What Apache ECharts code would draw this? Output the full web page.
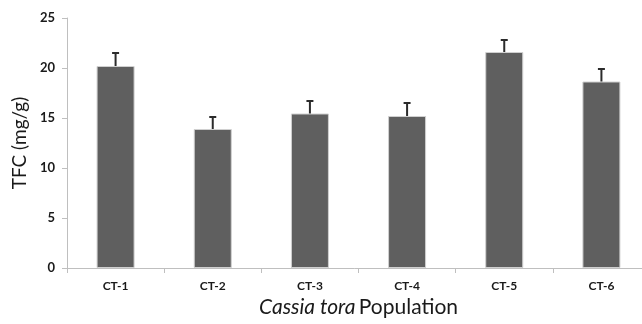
<!DOCTYPE html>
<html><head><meta charset="utf-8">
<script src="https://cdn.jsdelivr.net/npm/echarts@6/dist/echarts.min.js"></script>
<style>html,body{margin:0;padding:0;background:#fff}#c{width:642px;height:324px}</style>
</head><body><div id="c"></div>
<script>
const categories = ['CT-1', 'CT-2', 'CT-3', 'CT-4', 'CT-5', 'CT-6'];
const tfcMeans = [20.2, 13.9, 15.45, 15.2, 21.6, 18.65];
const tfcErrors = [1.3, 1.2, 1.25, 1.3, 1.2, 1.25];
const yTicks = [0, 5, 10, 15, 20, 25];

const FONT = 'Lato, "Open Sans", sans-serif';
const chart = echarts.init(document.getElementById('c'), null, {renderer: 'canvas'});
chart.setOption({
  animation: false,
  backgroundColor: '#fff',
  grid: {left: 67, right: -8, top: 18, bottom: 56, containLabel: false, outerBoundsMode: 'none'},
  xAxis: {
    type: 'category', data: categories,
    axisLine: {lineStyle: {color: '#bfbfbf', width: 1}},
    axisTick: {show: true, length: 5, lineStyle: {color: '#bfbfbf'}},
    axisLabel: {color: '#1a1a1a', fontWeight: 'bold', fontSize: 12, fontFamily: FONT, margin: 12},
    name: '{i|Cassia tora} {n|Population}',
    nameLocation: 'middle', nameGap: 29,
    nameTextStyle: {
      rich: {
        i: {fontStyle: 'italic', fontSize: 21, fontFamily: FONT, color: '#1a1a1a'},
        n: {fontSize: 21, fontFamily: FONT, color: '#1a1a1a'}
      }
    }
  },
  yAxis: {
    type: 'value', min: yTicks[0], max: yTicks[yTicks.length - 1], interval: 5,
    splitLine: {show: false},
    axisLine: {show: true, lineStyle: {color: '#bfbfbf', width: 1}},
    axisTick: {show: true, length: 5, lineStyle: {color: '#bfbfbf'}},
    axisLabel: {color: '#1a1a1a', fontWeight: 'bold', fontSize: 13, fontFamily: FONT, margin: 12},
    name: 'TFC (mg/g)', nameLocation: 'middle', nameGap: 34,
    nameTextStyle: {fontSize: 19, fontFamily: FONT, color: '#1a1a1a'}
  },
  series: [
    {
      type: 'bar', data: tfcMeans, barWidth: 38,
      itemStyle: {color: '#5f5f5f', borderColor: '#d0d0d0', borderWidth: 1}
    },
    {
      type: 'custom',
      data: tfcMeans.map((v, i) => [i, v, v + tfcErrors[i]]),
      renderItem: function (params, api) {
        const x = api.value(0);
        const top = api.coord([x, api.value(2)]);
        const base = api.coord([x, api.value(1)]);
        const cap = 3.5;
        const style = {stroke: '#2b2b2b', lineWidth: 2};
        return {
          type: 'group',
          children: [
            {type: 'line', shape: {x1: top[0], y1: base[1], x2: top[0], y2: top[1]}, style: style},
            {type: 'line', shape: {x1: top[0] - cap, y1: top[1], x2: top[0] + cap, y2: top[1]}, style: style}
          ]
        };
      },
      z: 5
    }
  ]
});
</script></body></html>
